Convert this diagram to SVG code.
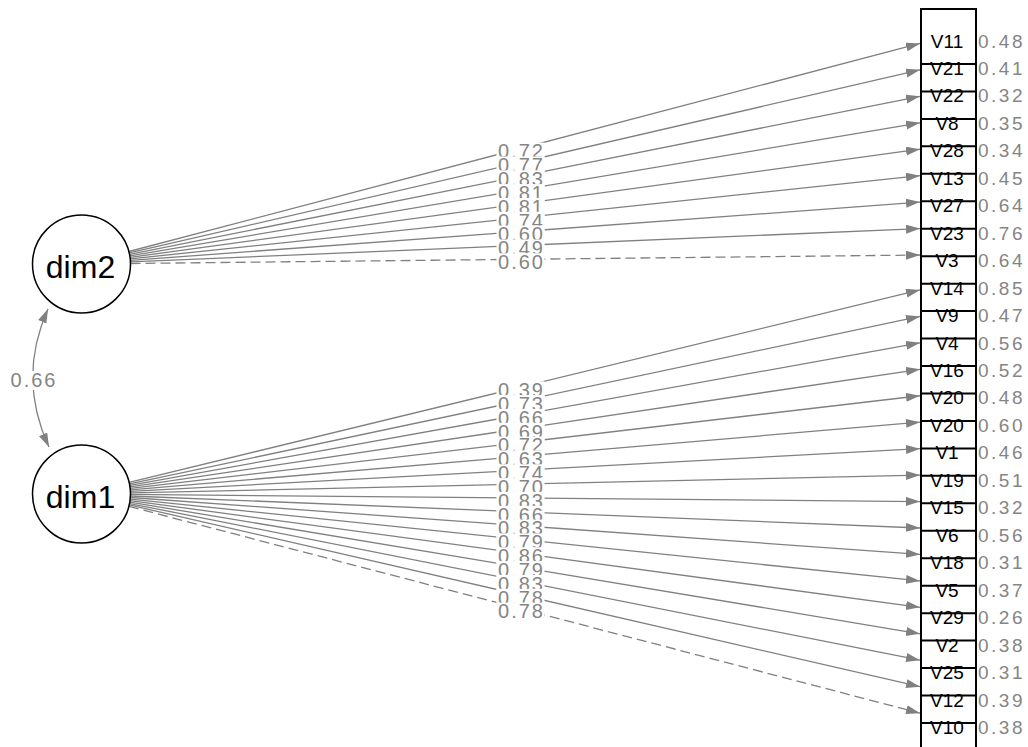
<svg xmlns="http://www.w3.org/2000/svg" width="1028" height="747" viewBox="0 0 1028 747">
<style>
.e{stroke:#808080;stroke-width:1.3;fill:none;marker-end:url(#ah)}
.d{stroke-dasharray:10 5}
.lb{fill:#ffffff;stroke:none}
.lt{font-family:"Liberation Sans",Arial,sans-serif;font-size:20px;fill:#858585;text-anchor:middle;letter-spacing:2px}
.nt{font-family:"Liberation Sans",Arial,sans-serif;font-size:19px;fill:#000000;text-anchor:middle}
.rt{font-family:"Liberation Sans",Arial,sans-serif;font-size:19px;fill:#858585;letter-spacing:2.5px}
.sep{stroke:#000000;stroke-width:2}
.lat{fill:#ffffff;stroke:#000000;stroke-width:1.5}
.latt{font-family:"Liberation Sans",Arial,sans-serif;font-size:32px;fill:#000000;text-anchor:middle}
</style>
<defs>
<marker id="ah" markerUnits="userSpaceOnUse" markerWidth="15" markerHeight="10" refX="14" refY="4.5" orient="auto-start-reverse" viewBox="0 0 15 10">
<path d="M0,0 L14,4.5 L0,9 z" fill="#808080"/>
</marker>
</defs>
<rect width="1028" height="747" fill="#ffffff"/>

<g id="connectors">
<line class="e" x1="128.9" y1="251.5" x2="920" y2="43.42"/>
<line class="e" x1="129.24" y1="252.95" x2="920" y2="69.87"/>
<line class="e" x1="129.55" y1="254.39" x2="920" y2="96.32"/>
<line class="e" x1="129.82" y1="255.86" x2="920" y2="122.77"/>
<line class="e" x1="130.05" y1="257.35" x2="920" y2="149.22"/>
<line class="e" x1="130.23" y1="258.87" x2="920" y2="175.67"/>
<line class="e" x1="130.37" y1="260.39" x2="920" y2="202.12"/>
<line class="e" x1="130.46" y1="261.93" x2="920" y2="228.57"/>
<line class="e d" x1="130.5" y1="263.48" x2="920" y2="255.02"/>
<line class="e" x1="129.11" y1="482.41" x2="920" y2="289.93"/>
<line class="e" x1="129.44" y1="483.85" x2="920" y2="316.38"/>
<line class="e" x1="129.72" y1="485.31" x2="920" y2="342.83"/>
<line class="e" x1="129.97" y1="486.79" x2="920" y2="369.28"/>
<line class="e" x1="130.17" y1="488.3" x2="920" y2="395.73"/>
<line class="e" x1="130.32" y1="489.82" x2="920" y2="422.18"/>
<line class="e" x1="130.43" y1="491.35" x2="920" y2="448.63"/>
<line class="e" x1="130.49" y1="492.9" x2="920" y2="475.08"/>
<line class="e" x1="130.5" y1="494.44" x2="920" y2="501.53"/>
<line class="e" x1="130.46" y1="495.98" x2="920" y2="527.98"/>
<line class="e" x1="130.37" y1="497.52" x2="920" y2="554.43"/>
<line class="e" x1="130.24" y1="499.05" x2="920" y2="580.88"/>
<line class="e" x1="130.06" y1="500.56" x2="920" y2="607.33"/>
<line class="e" x1="129.83" y1="502.06" x2="920" y2="633.79"/>
<line class="e" x1="129.57" y1="503.53" x2="920" y2="660.23"/>
<line class="e" x1="129.26" y1="504.97" x2="920" y2="686.69"/>
<line class="e d" x1="128.91" y1="506.39" x2="920" y2="713.13"/>
<path class="e" d="M48,309 Q17,378 49,447" style="marker-start:url(#ah)"/>
</g>

<g id="edge-labels">
<rect class="lb" x="496.5" y="142.6" width="48" height="19"/><text class="lt" x="521.5" y="158.3">0.72</text>
<rect class="lb" x="496.5" y="156.5" width="48" height="19"/><text class="lt" x="521.5" y="172.2">0.77</text>
<rect class="lb" x="496.5" y="170.3" width="48" height="19"/><text class="lt" x="521.5" y="186">0.83</text>
<rect class="lb" x="496.5" y="184.1" width="48" height="19"/><text class="lt" x="521.5" y="199.8">0.81</text>
<rect class="lb" x="496.5" y="198" width="48" height="19"/><text class="lt" x="521.5" y="213.7">0.81</text>
<rect class="lb" x="496.5" y="211.8" width="48" height="19"/><text class="lt" x="521.5" y="227.5">0.74</text>
<rect class="lb" x="496.5" y="225.6" width="48" height="19"/><text class="lt" x="521.5" y="241.3">0.60</text>
<rect class="lb" x="496.5" y="239.5" width="48" height="19"/><text class="lt" x="521.5" y="255.2">0.49</text>
<rect class="lb" x="496.5" y="253.3" width="48" height="19"/><text class="lt" x="521.5" y="269">0.60</text>
<rect class="lb" x="496.5" y="381.3" width="48" height="19"/><text class="lt" x="521.5" y="397">0.39</text>
<rect class="lb" x="496.5" y="395.1" width="48" height="19"/><text class="lt" x="521.5" y="410.8">0.73</text>
<rect class="lb" x="496.5" y="408.9" width="48" height="19"/><text class="lt" x="521.5" y="424.6">0.66</text>
<rect class="lb" x="496.5" y="422.8" width="48" height="19"/><text class="lt" x="521.5" y="438.5">0.69</text>
<rect class="lb" x="496.5" y="436.6" width="48" height="19"/><text class="lt" x="521.5" y="452.3">0.72</text>
<rect class="lb" x="496.5" y="450.4" width="48" height="19"/><text class="lt" x="521.5" y="466.1">0.63</text>
<rect class="lb" x="496.5" y="464.3" width="48" height="19"/><text class="lt" x="521.5" y="480">0.74</text>
<rect class="lb" x="496.5" y="478.1" width="48" height="19"/><text class="lt" x="521.5" y="493.8">0.70</text>
<rect class="lb" x="496.5" y="491.9" width="48" height="19"/><text class="lt" x="521.5" y="507.6">0.83</text>
<rect class="lb" x="496.5" y="505.8" width="48" height="19"/><text class="lt" x="521.5" y="521.5">0.66</text>
<rect class="lb" x="496.5" y="519.6" width="48" height="19"/><text class="lt" x="521.5" y="535.3">0.83</text>
<rect class="lb" x="496.5" y="533.4" width="48" height="19"/><text class="lt" x="521.5" y="549.1">0.79</text>
<rect class="lb" x="496.5" y="547.3" width="48" height="19"/><text class="lt" x="521.5" y="563">0.86</text>
<rect class="lb" x="496.5" y="561.1" width="48" height="19"/><text class="lt" x="521.5" y="576.8">0.79</text>
<rect class="lb" x="496.5" y="574.9" width="48" height="19"/><text class="lt" x="521.5" y="590.6">0.83</text>
<rect class="lb" x="496.5" y="588.8" width="48" height="19"/><text class="lt" x="521.5" y="604.5">0.78</text>
<rect class="lb" x="496.5" y="602.6" width="48" height="19"/><text class="lt" x="521.5" y="618.3">0.78</text>
<rect class="lb" x="12" y="371" width="46" height="19"/><text class="lt" x="34" y="387.4">0.66</text>
</g>

<g id="node-dim2"><circle class="lat" cx="81.5" cy="264" r="49"/><text class="latt" x="80.5" y="278">dim2</text></g>
<g id="node-dim1"><circle class="lat" cx="81.5" cy="494" r="49"/><text class="latt" x="80.5" y="508">dim1</text></g>

<g id="indicator-frame"><rect x="921" y="9" width="55" height="760" fill="none" stroke="#000000" stroke-width="2"/></g>

<g id="node-V11"><text class="nt" x="947" y="47.5">V11</text><text class="rt" x="978" y="47.5">0.48</text></g>
<g id="node-V21"><line class="sep" x1="921" y1="63.96" x2="976" y2="63.96"/><text class="nt" x="947" y="74.96">V21</text><text class="rt" x="978" y="74.96">0.41</text></g>
<g id="node-V22"><line class="sep" x1="921" y1="91.42" x2="976" y2="91.42"/><text class="nt" x="947" y="102.42">V22</text><text class="rt" x="978" y="102.42">0.32</text></g>
<g id="node-V8"><line class="sep" x1="921" y1="118.88" x2="976" y2="118.88"/><text class="nt" x="947" y="129.88">V8</text><text class="rt" x="978" y="129.88">0.35</text></g>
<g id="node-V28"><line class="sep" x1="921" y1="146.34" x2="976" y2="146.34"/><text class="nt" x="947" y="157.34">V28</text><text class="rt" x="978" y="157.34">0.34</text></g>
<g id="node-V13"><line class="sep" x1="921" y1="173.8" x2="976" y2="173.8"/><text class="nt" x="947" y="184.8">V13</text><text class="rt" x="978" y="184.8">0.45</text></g>
<g id="node-V27"><line class="sep" x1="921" y1="201.26" x2="976" y2="201.26"/><text class="nt" x="947" y="212.26">V27</text><text class="rt" x="978" y="212.26">0.64</text></g>
<g id="node-V23"><line class="sep" x1="921" y1="228.72" x2="976" y2="228.72"/><text class="nt" x="947" y="239.72">V23</text><text class="rt" x="978" y="239.72">0.76</text></g>
<g id="node-V3"><line class="sep" x1="921" y1="256.18" x2="976" y2="256.18"/><text class="nt" x="947" y="267.18">V3</text><text class="rt" x="978" y="267.18">0.64</text></g>
<g id="node-V14"><line class="sep" x1="921" y1="283.64" x2="976" y2="283.64"/><text class="nt" x="947" y="294.64">V14</text><text class="rt" x="978" y="294.64">0.85</text></g>
<g id="node-V9"><line class="sep" x1="921" y1="311.1" x2="976" y2="311.1"/><text class="nt" x="947" y="322.1">V9</text><text class="rt" x="978" y="322.1">0.47</text></g>
<g id="node-V4"><line class="sep" x1="921" y1="338.56" x2="976" y2="338.56"/><text class="nt" x="947" y="349.56">V4</text><text class="rt" x="978" y="349.56">0.56</text></g>
<g id="node-V16"><line class="sep" x1="921" y1="366.02" x2="976" y2="366.02"/><text class="nt" x="947" y="377.02">V16</text><text class="rt" x="978" y="377.02">0.52</text></g>
<g id="node-V20a"><line class="sep" x1="921" y1="393.48" x2="976" y2="393.48"/><text class="nt" x="947" y="404.48">V20</text><text class="rt" x="978" y="404.48">0.48</text></g>
<g id="node-V20b"><line class="sep" x1="921" y1="420.94" x2="976" y2="420.94"/><text class="nt" x="947" y="431.94">V20</text><text class="rt" x="978" y="431.94">0.60</text></g>
<g id="node-V1"><line class="sep" x1="921" y1="448.4" x2="976" y2="448.4"/><text class="nt" x="947" y="459.4">V1</text><text class="rt" x="978" y="459.4">0.46</text></g>
<g id="node-V19"><line class="sep" x1="921" y1="475.86" x2="976" y2="475.86"/><text class="nt" x="947" y="486.86">V19</text><text class="rt" x="978" y="486.86">0.51</text></g>
<g id="node-V15"><line class="sep" x1="921" y1="503.32" x2="976" y2="503.32"/><text class="nt" x="947" y="514.32">V15</text><text class="rt" x="978" y="514.32">0.32</text></g>
<g id="node-V6"><line class="sep" x1="921" y1="530.78" x2="976" y2="530.78"/><text class="nt" x="947" y="541.78">V6</text><text class="rt" x="978" y="541.78">0.56</text></g>
<g id="node-V18"><line class="sep" x1="921" y1="558.24" x2="976" y2="558.24"/><text class="nt" x="947" y="569.24">V18</text><text class="rt" x="978" y="569.24">0.31</text></g>
<g id="node-V5"><line class="sep" x1="921" y1="585.7" x2="976" y2="585.7"/><text class="nt" x="947" y="596.7">V5</text><text class="rt" x="978" y="596.7">0.37</text></g>
<g id="node-V29"><line class="sep" x1="921" y1="613.16" x2="976" y2="613.16"/><text class="nt" x="947" y="624.16">V29</text><text class="rt" x="978" y="624.16">0.26</text></g>
<g id="node-V2"><line class="sep" x1="921" y1="640.62" x2="976" y2="640.62"/><text class="nt" x="947" y="651.62">V2</text><text class="rt" x="978" y="651.62">0.38</text></g>
<g id="node-V25"><line class="sep" x1="921" y1="668.08" x2="976" y2="668.08"/><text class="nt" x="947" y="679.08">V25</text><text class="rt" x="978" y="679.08">0.31</text></g>
<g id="node-V12"><line class="sep" x1="921" y1="695.54" x2="976" y2="695.54"/><text class="nt" x="947" y="706.54">V12</text><text class="rt" x="978" y="706.54">0.39</text></g>
<g id="node-V10"><line class="sep" x1="921" y1="723" x2="976" y2="723"/><text class="nt" x="947" y="734">V10</text><text class="rt" x="978" y="734">0.38</text></g>
</svg>
